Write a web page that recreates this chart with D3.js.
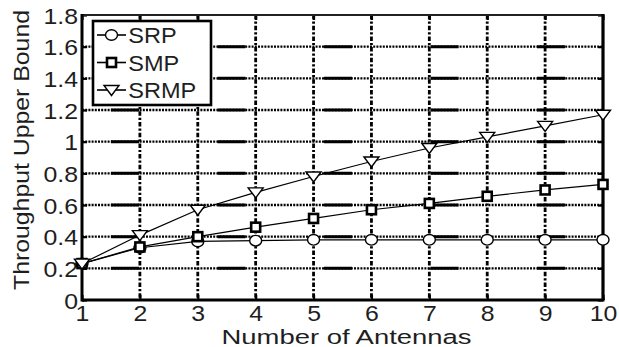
<!DOCTYPE html>
<html>
<head>
<meta charset="utf-8">
<script src="https://cdn.jsdelivr.net/npm/d3@7"></script>
<style>
  html, body { margin: 0; padding: 0; background: #fff; }
  svg { display: block; }
  text { font-family: "Liberation Sans", Arial, Helvetica, sans-serif; fill: #1e1e1e; }
</style>
</head>
<body>
<svg id="chart" width="619" height="347"></svg>
<script>
// Antenna counts on the x axis
const antennas = [1, 2, 3, 4, 5, 6, 7, 8, 9, 10];

// Throughput upper bound for each scheme
const srp  = [0.23, 0.33, 0.37, 0.375, 0.38, 0.38, 0.38, 0.38, 0.38, 0.38];
const smp  = [0.23, 0.335, 0.40, 0.46, 0.515, 0.57, 0.61, 0.655, 0.695, 0.73];
const srmp = [0.23, 0.41, 0.57, 0.68, 0.78, 0.875, 0.96, 1.03, 1.10, 1.17];

const seriesNames = ["SRP", "SMP", "SRMP"];
const seriesMarkers = ["circle", "square", "triangle"];

// Axis ticks
const xTicks = [1, 2, 3, 4, 5, 6, 7, 8, 9, 10];
const yTicks = [0, 0.2, 0.4, 0.6, 0.8, 1, 1.2, 1.4, 1.6, 1.8];
const yTickLabels = ["0", "0.2", "0.4", "0.6", "0.8", "1", "1.2", "1.4", "1.6", "1.8"];
const xTitle = "Number of Antennas";
const yTitle = "Throughput Upper Bound";

const W = 619, H = 347;
const margin = { left: 82, top: 15, right: 16, bottom: 47 };
const pw = W - margin.left - margin.right;
const ph = H - margin.top - margin.bottom;

const svg = d3.select("#chart");
const g = svg.append("g").attr("transform", `translate(${margin.left},${margin.top})`);

const x = d3.scaleLinear().domain([1, 10]).range([0, pw]);
const y = d3.scaleLinear().domain([0, 1.8]).range([ph, 0]);

// ---- grid ----
const grid = g.append("g").attr("class", "grid");
const innerY = yTicks.filter(v => v > 0 && v < 1.8);
const innerX = xTicks.filter(v => v > 1 && v < 10);

// horizontal: fine dotted line with long heavy dashes every so often
grid.selectAll("line.hdot").data(innerY).join("line")
  .attr("class", "hdot")
  .attr("x1", 0).attr("x2", pw)
  .attr("y1", d => y(d)).attr("y2", d => y(d))
  .attr("stroke", "#000").attr("stroke-width", 2.3)
  .attr("stroke-dasharray", "2,1.2");
grid.selectAll("line.hdash").data(innerY).join("line")
  .attr("class", "hdash")
  .attr("x1", 0).attr("x2", pw)
  .attr("y1", d => y(d)).attr("y2", d => y(d))
  .attr("stroke", "#000").attr("stroke-width", 3)
  .attr("stroke-dasharray", "28,78.5")
  .attr("stroke-dashoffset", 77.5);

// vertical: dash-dot
grid.selectAll("line.v").data(innerX).join("line")
  .attr("class", "v")
  .attr("x1", d => x(d)).attr("x2", d => x(d))
  .attr("y1", 0).attr("y2", ph)
  .attr("stroke", "#000").attr("stroke-width", 2.8)
  .attr("stroke-dasharray", "4.5,2,2.2,2");

// ---- axes ----
const fontSize = 22, stretch = 1.13;

const xAxis = g.append("g").attr("transform", `translate(0,${ph})`)
  .call(d3.axisBottom(x).tickValues(xTicks).tickFormat(d3.format("d")).tickSizeInner(-5).tickSizeOuter(0));
const yAxis = g.append("g")
  .call(d3.axisLeft(y).tickValues(yTicks).tickFormat((d, i) => yTickLabels[i]).tickSizeInner(-5).tickSizeOuter(0));
const topAxis = g.append("g")
  .call(d3.axisTop(x).tickValues(xTicks).tickFormat("").tickSizeInner(-5).tickSizeOuter(0));
const rightAxis = g.append("g").attr("transform", `translate(${pw},0)`)
  .call(d3.axisRight(y).tickValues(yTicks).tickFormat("").tickSizeInner(-5).tickSizeOuter(0));

[xAxis, yAxis, topAxis, rightAxis].forEach(a => {
  a.selectAll(".tick line").attr("stroke", "#000").attr("stroke-width", 2.2);
  a.select(".domain").attr("stroke", "none");
});

xAxis.selectAll(".tick text")
  .attr("y", null).attr("dy", null)
  .attr("transform", `translate(0,20.5) scale(${stretch},1)`)
  .attr("font-size", fontSize).attr("text-anchor", "middle");
yAxis.selectAll(".tick text")
  .attr("x", null).attr("dy", null)
  .attr("transform", `translate(-4,8) scale(${stretch},1)`)
  .attr("font-size", fontSize).attr("text-anchor", "end");
xAxis.attr("font-family", null);
yAxis.attr("font-family", null);

// frame
g.append("line").attr("x1", 0).attr("x2", pw).attr("y1", 0).attr("y2", 0)
  .attr("stroke", "#222").attr("stroke-width", 1.8);
g.append("line").attr("x1", 0).attr("x2", 0).attr("y1", -1).attr("y2", ph + 1.5)
  .attr("stroke", "#000").attr("stroke-width", 3);
g.append("line").attr("x1", 0).attr("x2", pw + 1.5).attr("y1", ph).attr("y2", ph)
  .attr("stroke", "#000").attr("stroke-width", 3);
g.append("line").attr("x1", pw).attr("x2", pw).attr("y1", -1).attr("y2", ph)
  .attr("stroke", "#000").attr("stroke-width", 3.2);

// ---- titles ----
svg.append("text")
  .attr("x", margin.left + pw / 2 + 4).attr("y", 344)
  .attr("text-anchor", "middle").attr("font-size", 20.5)
  .attr("textLength", 250).attr("lengthAdjust", "spacingAndGlyphs")
  .text(xTitle);
svg.append("text")
  .attr("transform", "translate(29,150) rotate(-90)")
  .attr("text-anchor", "middle").attr("font-size", 22)
  .attr("textLength", 280).attr("lengthAdjust", "spacingAndGlyphs")
  .text(yTitle);

// ---- series ----
const series = [srp, smp, srmp];
const line = d3.line().x((d, i) => x(antennas[i])).y(d => y(d));

function drawMarker(sel, type) {
  if (type === "circle") {
    sel.append("ellipse").attr("rx", 6).attr("ry", 5.3)
      .attr("fill", "#fff").attr("stroke", "#000").attr("stroke-width", 1.4);
  } else if (type === "square") {
    sel.append("rect").attr("x", -4.5).attr("y", -4.5).attr("width", 9).attr("height", 9)
      .attr("fill", "#fff").attr("stroke", "#000").attr("stroke-width", 2.6);
  } else {
    sel.append("path").attr("d", "M-7.5,-4.5 L7.5,-4.5 L0,5.5 Z")
      .attr("fill", "#fff").attr("stroke", "#000").attr("stroke-width", 1.4)
      .attr("stroke-linejoin", "miter");
  }
}

series.forEach((vals, si) => {
  const sg = g.append("g");
  sg.append("path").datum(vals).attr("d", line)
    .attr("fill", "none").attr("stroke", "#000").attr("stroke-width", 1.2);
  sg.selectAll("g.m").data(vals).join("g")
    .attr("class", "m")
    .attr("transform", (d, i) => `translate(${x(antennas[i])},${y(d)})`)
    .each(function () { drawMarker(d3.select(this), seriesMarkers[si]); });
});

// ---- legend ----
const lg = svg.append("g").attr("transform", "translate(93,21)");
lg.append("rect").attr("width", 118).attr("height", 84)
  .attr("fill", "#fff").attr("stroke", "#000").attr("stroke-width", 2.6);
seriesNames.forEach((name, i) => {
  const row = lg.append("g").attr("transform", `translate(0,${14 + i * 27.5})`);
  row.append("line").attr("x1", 4).attr("x2", 33).attr("y1", 0).attr("y2", 0)
    .attr("stroke", "#000").attr("stroke-width", 1.6);
  const m = row.append("g").attr("transform", "translate(18.5,0)");
  drawMarker(m, seriesMarkers[i]);
  row.append("text").attr("x", 33).attr("y", 8)
    .attr("font-size", 22)
    .attr("transform", "scale(1.07,1)")
    .text(name);
});
</script>
</body>
</html>
